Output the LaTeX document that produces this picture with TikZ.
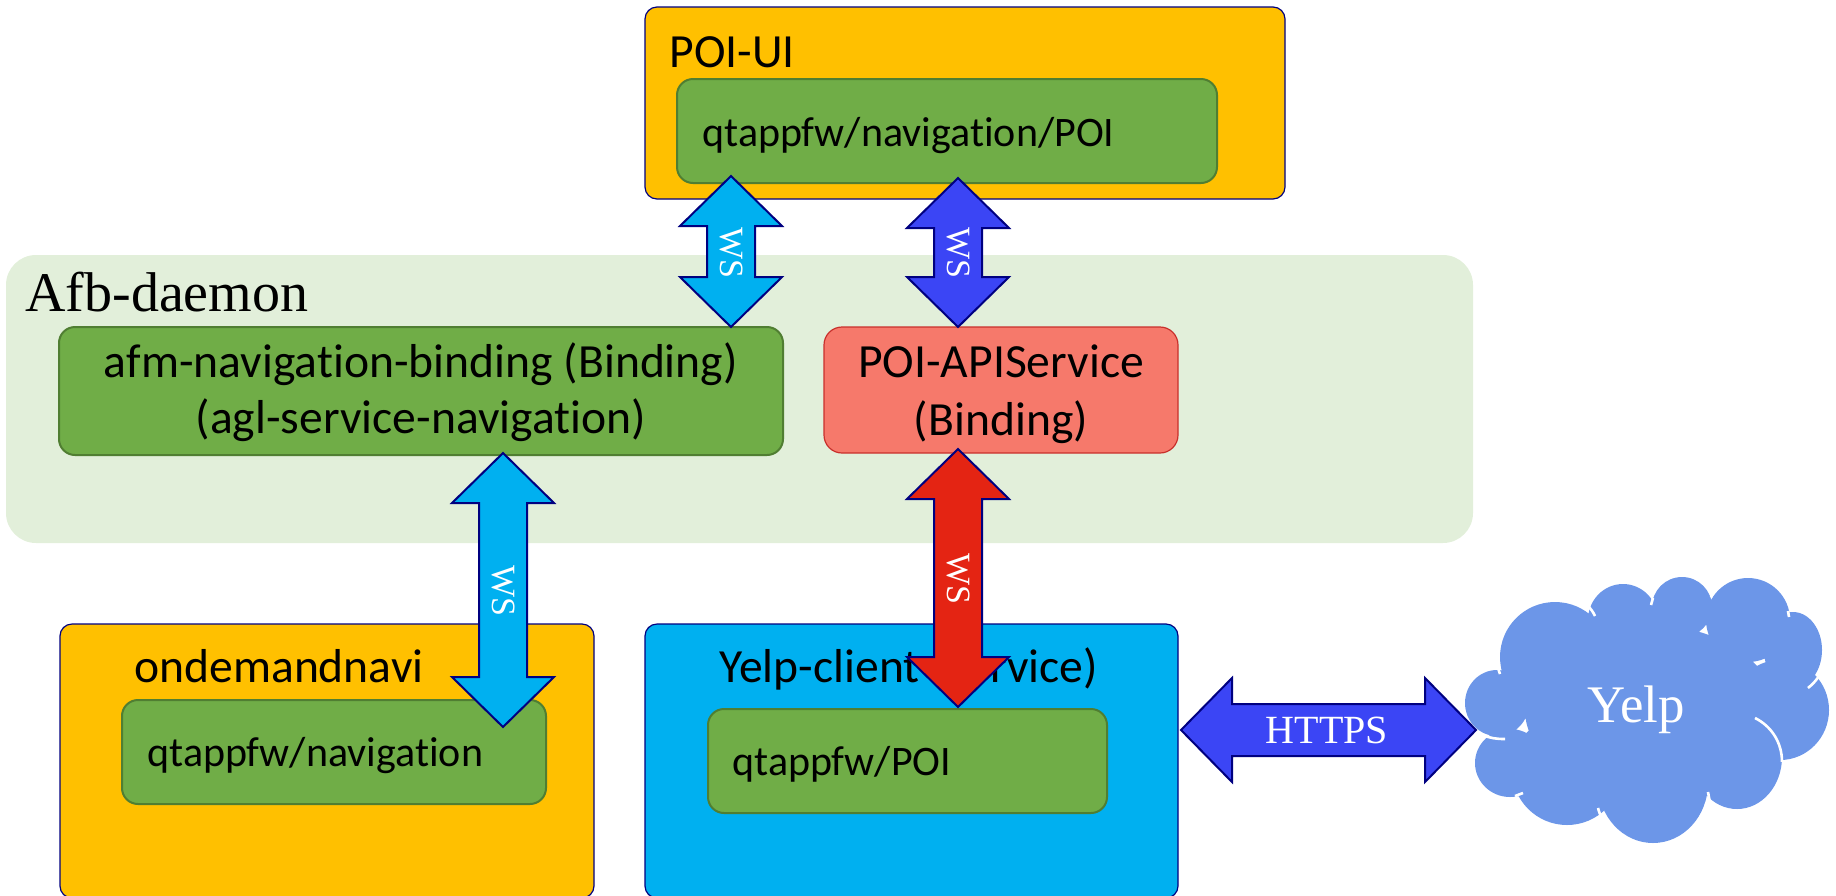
\documentclass[tikz,border=0pt]{standalone}
\usepackage{fontspec}
\setmainfont[Ligatures={NoCommon,NoContextual,NoRequired},Contextuals=NoAlternate]{Carlito}
\newfontfamily\serifA{Liberation Serif}
\usetikzlibrary{fit,calc}
\definecolor{orangeF}{HTML}{FFC000}
\definecolor{greenF}{HTML}{70AD47}
\definecolor{greenD}{HTML}{507E32}
\definecolor{paleG}{HTML}{E2EFDA}
\definecolor{salmonF}{HTML}{F6796B}
\definecolor{salmonD}{HTML}{C9302C}
\definecolor{lblue}{HTML}{00B0F0}
\definecolor{dblue}{HTML}{3B45F5}
\definecolor{redA}{HTML}{E42413}
\definecolor{navyB}{HTML}{000080}
\definecolor{cloudC}{HTML}{6C96E8}
\newcommand\nolig{\kern0pt{}}
\newcommand\blockV[3]{%
  \draw[#3] (#1) -- ($(#1)+(51,50)$) -- ($(#1)+(24,50)$) -- ($(#2)+(24,-50)$) -- ($(#2)+(51,-50)$) -- (#2)
    -- ($(#2)+(-51,-50)$) -- ($(#2)+(-24,-50)$) -- ($(#1)+(-24,50)$) -- ($(#1)+(-51,50)$) -- cycle;}
\newcommand\blockH[3]{%
  \draw[#3] (#1) -- ($(#1)+(51,-52)$) -- ($(#1)+(51,-26)$) -- ($(#2)+(-51,-26)$) -- ($(#2)+(-51,-52)$) -- (#2)
    -- ($(#2)+(-51,52)$) -- ($(#2)+(-51,26)$) -- ($(#1)+(51,26)$) -- ($(#1)+(51,52)$) -- cycle;}
\begin{document}
\begin{tikzpicture}[x=0.5pt,y=-0.5pt,
  outerbox/.style={draw=navyB, line width=0.6pt, rounded corners=6pt, inner sep=0pt},
  greenbox/.style={draw=greenD, fill=greenF, line width=1pt, rounded corners=8pt, inner sep=0pt},
  bigtxt/.style={font=\fontsize{23.8}{28}\selectfont, inner sep=0pt},
  smalltxt/.style={font=\fontsize{21}{25}\selectfont, inner sep=0pt, anchor=base west},
  wsarrow/.style={draw=navyB, line width=1pt, line join=miter},
  wslabel/.style={font=\serifA\fontsize{17}{17}\selectfont, text=white, rotate=-90, inner sep=0pt},
  puffline/.style={draw=white, line width=1.3pt}]
\useasboundingbox (0,0) rectangle (1836,895);
% Afb-daemon background
\node[fill=paleG, rounded corners=15pt, inner sep=0pt, fit={(6,255) (1473,543)}] (afb) {};
\node[font=\serifA\fontsize{28}{30}\selectfont, inner sep=0pt, anchor=base west] (afbt) at (25,311) {Afb-daemon};
% POI-UI
\node[outerbox, fill=orangeF, fit={(645,7) (1285,199)}] (poiui) {};
\node[bigtxt, anchor=base west] (poiuit) at (669,67) {POI-UI};
\node[greenbox, fit={(677,79) (1217,183)}] (poiin) {};
\node[smalltxt] (poiint) at (702,146) {qtappfw/naviga\nolig tion/POI};
% afm binding
\node[greenbox, fit={(59,327) (783,455)}] (afm) {};
\node[bigtxt, anchor=base] (afmt1) at (421,377) {afm-naviga\nolig tion-binding (Binding)};
\node[bigtxt, anchor=base] (afmt2) at (421,433) {(agl-service-naviga\nolig tion)};
% POI-APIService
\node[draw=salmonD, fill=salmonF, line width=0.6pt, rounded corners=9pt, inner sep=0pt, fit={(824,327) (1178,453)}] (api) {};
\node[bigtxt, anchor=base] (apit1) at (1001,377) {POI-APIService};
\node[bigtxt, anchor=base] (apit2) at (1001,435) {(Binding)};
% ondemandnavi
\node[outerbox, fill=orangeF, fit={(60,624) (594,898)}] (ond) {};
\node[bigtxt, anchor=base west] (ondt) at (134,682) {ondemandnavi};
\node[greenbox, fit={(122,700) (546,804)}] (ondin) {};
\node[smalltxt] (ondint) at (147,766) {qtappfw/naviga\nolig tion};
% Yelp-client
\node[outerbox, fill=lblue, fit={(645,624) (1178,898)}] (ycl) {};
\node[bigtxt, anchor=base west] (yclt) at (719,682) {Yelp-client (Service)};
\node[greenbox, fit={(708,709) (1107,813)}] (yclin) {};
\node[smalltxt] (yclint) at (732,775) {qtappfw/POI};
% Cloud
\fill[cloudC]
  (1555,657) ellipse [x radius=55, y radius=55]
  (1623,620) ellipse [x radius=35, y radius=36]
  (1682,607) ellipse [x radius=30, y radius=30]
  (1748,620) ellipse [x radius=42, y radius=42]
  (1793,650) ellipse [x radius=29, y radius=38]
  (1780,710) ellipse [x radius=49, y radius=50]
  (1737,757) ellipse [x radius=45, y radius=52]
  (1653,783) ellipse [x radius=55, y radius=60]
  (1567,770) ellipse [x radius=55, y radius=55]
  (1510,763) ellipse [x radius=35, y radius=34]
  (1497,703) ellipse [x radius=32, y radius=33]
  (1650,710) ellipse [x radius=125, y radius=85];
\draw[puffline] (1587,605) to[bend left=10] (1595,616);
\draw[puffline] (1653,598) -- (1651,605);
\draw[puffline] (1714,590) -- (1711,597);
\draw[puffline] (1788,611) -- (1789,617);
\draw[puffline] (1819,676) to[bend left=8] (1808,688);
\draw[puffline] (1755,718) .. controls (1771,726) and (1782,742) .. (1782,762);
\draw[puffline] (1708,792) -- (1710,803);
\draw[puffline] (1598,808) to[bend right=8] (1603,820);
\draw[puffline] (1515,796) -- (1523,793);
\draw[puffline] (1482,735) to[bend right=10] (1505,739);
\draw[puffline] (1498,668) -- (1500,674);
\node[font=\serifA\fontsize{26.4}{28}\selectfont, text=white, inner sep=0pt, anchor=base] (yelp) at (1636,722) {Yelp};
% arrows
\coordinate (w1t) at (731,176); \coordinate (w1b) at (731,327);
\coordinate (w2t) at (958,178); \coordinate (w2b) at (958,327);
\coordinate (w3t) at (503,453); \coordinate (w3b) at (503,727);
\coordinate (w4t) at (958,449); \coordinate (w4b) at (958,707);
\coordinate (h1) at (1181,730); \coordinate (h2) at (1476,730);
\blockV{w1t}{w1b}{wsarrow, fill=lblue}
\blockV{w2t}{w2b}{wsarrow, fill=dblue}
\blockV{w3t}{w3b}{wsarrow, fill=lblue}
\blockV{w4t}{w4b}{wsarrow, fill=redA}
\blockH{h1}{h2}{wsarrow, fill=dblue}
\node[wslabel] (ws1) at (731,253) {WS};
\node[wslabel] (ws2) at (958,253) {WS};
\node[wslabel] (ws3) at (503,591) {WS};
\node[wslabel] (ws4) at (958,579) {WS};
\node[font=\serifA\fontsize{20}{22}\selectfont, text=white, inner sep=0pt] (https) at (1327,730) {HTTPS};
\end{tikzpicture}
\end{document}
